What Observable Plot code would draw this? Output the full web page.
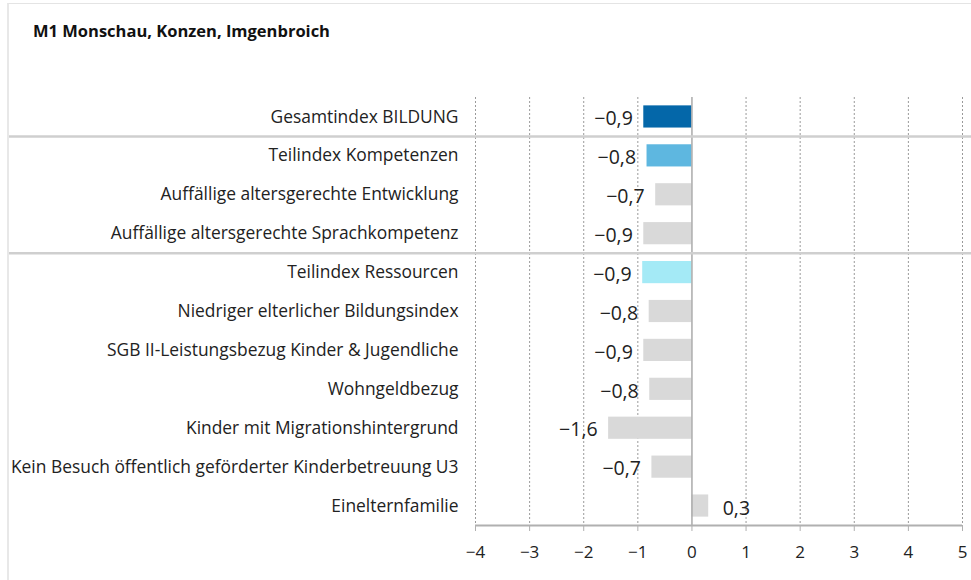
<!DOCTYPE html>
<html>
<head>
<meta charset="utf-8">
<script src="https://cdn.jsdelivr.net/npm/d3@7"></script>
<script src="https://cdn.jsdelivr.net/npm/@observablehq/plot@0.6"></script>
<style>
  html, body { margin: 0; padding: 0; background: #fff; }
  #wrap { position: relative; width: 971px; height: 580px; overflow: hidden; font-family: "Open Sans", sans-serif; }
  #frame { position: absolute; left: 7px; top: 3px; right: -2px; bottom: -2px; border-left: 2px solid #e8e8e8; border-top: 1px solid #e4e4e4; }
  #title { position: absolute; left: 33px; top: 19px; font-size: 16.5px; font-weight: bold; color: #111; font-family: "Open Sans", sans-serif; }
  #chart { position: absolute; left: 0; top: 0; }
</style>
</head>
<body>
<div id="wrap">
  <div id="frame"></div>
  <div id="chart"></div>
  <div id="title">M1 Monschau, Konzen, Imgenbroich</div>
</div>
<script>
const categories = [
  "Gesamtindex BILDUNG",
  "Teilindex Kompetenzen",
  "Auffällige altersgerechte Entwicklung",
  "Auffällige altersgerechte Sprachkompetenz",
  "Teilindex Ressourcen",
  "Niedriger elterlicher Bildungsindex",
  "SGB II-Leistungsbezug Kinder & Jugendliche",
  "Wohngeldbezug",
  "Kinder mit Migrationshintergrund",
  "Kein Besuch öffentlich geförderter Kinderbetreuung U3",
  "Einelternfamilie"
];
const values = [-0.89, -0.83, -0.67, -0.89, -0.91, -0.79, -0.89, -0.78, -1.54, -0.74, 0.31];
const valueLabels = [-0.9, -0.8, -0.7, -0.9, -0.9, -0.8, -0.9, -0.8, -1.6, -0.7, 0.3];
const kinds = ["gesamt", "kompetenzen", "item", "item", "ressourcen", "item", "item", "item", "item", "item", "item"];
const groupStarts = ["Teilindex Kompetenzen", "Teilindex Ressourcen"];
const xTicks = [-4, -3, -2, -1, 0, 1, 2, 3, 4, 5];

const kindColors = {gesamt: "#0467a9", kompetenzen: "#5eb7e0", ressourcen: "#a4eaf6", item: "#d9d9d9"};

const data = categories.map((c, i) => ({cat: c, value: values[i], label: valueLabels[i], kind: kinds[i]}));

const W = 971, H = 580, mT = 97, mB = 55, mL = 475, mR = 9;
const step = (H - mT - mB) / categories.length;
const fmt = v => (v < 0 ? "\u2212" : "") + Math.abs(v).toFixed(1).replace(".", ",");
const tickFmt = v => (v < 0 ? "\u2212" : "") + Math.abs(v);

const chart = Plot.plot({
  width: W, height: H,
  marginTop: mT, marginBottom: mB, marginLeft: mL, marginRight: mR,
  style: {fontFamily: "Open Sans, sans-serif", color: "#222", background: "transparent"},
  x: {domain: [-4, 5]},
  y: {domain: categories, paddingInner: 0.43, paddingOuter: 0.215, round: false},
  marks: [
    Plot.ruleX(xTicks.filter(t => t !== 0), {x: d => d, stroke: "#9a9a9a", strokeDasharray: "2,2", strokeWidth: 1}),
    Plot.barX(data, {x: "value", y: "cat", fill: d => kindColors[d.kind]}),
    Plot.ruleX([0], {stroke: "#aaaaaa", strokeWidth: 1.5}),
    Plot.ruleY(groupStarts, {y: d => d, dy: -step / 2, stroke: "#cfcfcf", strokeWidth: 2.5, insetLeft: -(mL - 9), insetRight: -mR}),
    Plot.ruleY([categories[categories.length - 1]], {y: d => d, dy: step / 2, stroke: "#b0b0b0", strokeWidth: 2}),
    Plot.text(data.filter(d => d.value < 0), {x: "value", y: "cat", text: d => fmt(d.label), textAnchor: "end", dx: -11, dy: 2, fontSize: 19.5, fill: "#222"}),
    Plot.text(data.filter(d => d.value >= 0), {x: "value", y: "cat", text: d => fmt(d.label), textAnchor: "start", dx: 14, dy: 3, fontSize: 19.5, fill: "#222"}),
    Plot.axisX({ticks: xTicks, tickFormat: tickFmt, tickSize: 6, tickPadding: 14, fontSize: 17, stroke: "#b0b0b0", fill: "#222", label: null}),
    Plot.axisY({tickSize: 0, tickPadding: 17, fontSize: 17.4, fill: "#222", label: null})
  ]
});
document.getElementById("chart").appendChild(chart);
</script>
</body>
</html>
